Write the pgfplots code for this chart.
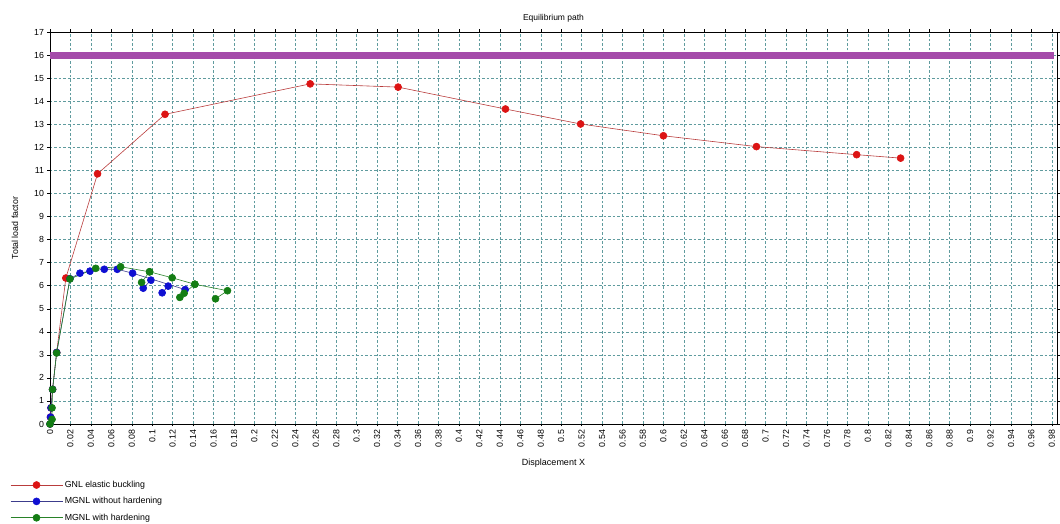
\documentclass[border=0pt]{standalone}
\usepackage{pgfplots}
\pgfplotsset{compat=1.18}
\usepackage{fontspec}
\setmainfont{Liberation Sans}
\definecolor{gridc}{RGB}{95,155,158}
\definecolor{redl}{RGB}{185,60,60}
\definecolor{redm}{RGB}{220,20,20}
\definecolor{bluel}{RGB}{60,60,140}
\definecolor{bluem}{RGB}{15,15,210}
\definecolor{greenl}{RGB}{40,130,40}
\definecolor{greenm}{RGB}{20,125,20}
\definecolor{purp}{RGB}{165,75,170}
\begin{document}
\begin{tikzpicture}
\begin{axis}[
  at={(0,0)}, anchor=south west,
  scale only axis, width=1007pt, height=392pt,
  xmin=0, xmax=0.985, ymin=0, ymax=17,
  xtick={0,0.02,...,0.981}, ytick={0,1,...,17},
  /pgf/number format/assume math mode=true,
  xticklabel style={rotate=90, anchor=east, font=\fontsize{8.8}{9}\selectfont, /pgf/number format/.cd, fixed, precision=2},
  yticklabel style={font=\fontsize{8.8}{9}\selectfont},
  tick align=outside, major tick length=2.5pt,
  tick style={black, thin},
  grid=major,
  major grid style={gridc, dash pattern=on 2.5pt off 2pt, line width=0.45pt},
  axis line style={black, line width=0.6pt},
  title={Equilibrium path},
  title style={font=\fontsize{8.5}{9}\selectfont, at={(0.5,1)}, anchor=south, yshift=0pt},
  xlabel={Displacement X},
  xlabel style={font=\fontsize{9}{10}\selectfont, at={(0.5,0)}, anchor=north, yshift=-31pt},
  ylabel={Total load factor},
  ylabel style={font=\fontsize{8.8}{9}\selectfont, at={(-0.0348,0.5)}, anchor=center},
  legend style={draw=none, fill=none, at={(-0.0397,-0.14)}, anchor=north west, font=\fontsize{8.8}{9}\selectfont, row sep=4.5pt, inner sep=0pt},
  legend cell align=left,
  legend image code/.code={\draw[#1, mark repeat=2, mark phase=2] plot coordinates {(0pt,0pt) (26pt,0pt) (52pt,0pt)};},
  clip=false,
]
\addplot[purp, line width=7pt, forget plot] coordinates {(0,16) (0.982,16)};
\addplot[redl, line width=0.6pt, mark=*, mark size=3.5pt, mark options={redm, fill=redm}] coordinates {
(0,0) (0.0005,0.3) (0.001,0.7) (0.0025,1.5) (0.0065,3.1)
(0.0155,6.33) (0.0465,10.85) (0.1125,13.43) (0.2545,14.75) (0.3405,14.61)
(0.4455,13.66) (0.519,13.01) (0.6,12.5) (0.691,12.03) (0.789,11.68) (0.832,11.53)};
\addlegendentry{GNL elastic buckling}
\addplot[bluel, line width=0.6pt, mark=*, mark size=3.5pt, mark options={bluem, fill=bluem}] coordinates {
(0,0) (0.0005,0.3) (0.001,0.7) (0.0025,1.5) (0.0065,3.1)
(0.0195,6.3) (0.0293,6.54) (0.0391,6.63) (0.0531,6.71) (0.0658,6.71) (0.0808,6.54) (0.1322,5.83)};
\addlegendentry{MGNL without hardening}
\addplot[bluel, line width=0.6pt, mark=*, mark size=3.5pt, mark options={bluem, fill=bluem}, forget plot] coordinates {(0.0912,5.89) (0.0987,6.24)};
\addplot[bluel, line width=0.6pt, mark=*, mark size=3.5pt, mark options={bluem, fill=bluem}, forget plot] coordinates {(0.1097,5.69) (0.1156,5.98)};
\addplot[greenl, line width=0.6pt, mark=*, mark size=3.5pt, mark options={greenm, fill=greenm}] coordinates {
(0,0) (0.002,0.2) (0.002,0.7) (0.0025,1.5) (0.0065,3.08)
(0.0195,6.29) (0.0447,6.75) (0.0691,6.82) (0.0974,6.6) (0.1195,6.34) (0.1417,6.06) (0.1736,5.78) (0.1619,5.43)};
\addlegendentry{MGNL with hardening}
\addplot[greenl, line width=0.6pt, mark=*, mark size=3.5pt, mark options={greenm, fill=greenm}, forget plot] coordinates {(0.0896,6.14) (0.0974,6.6)};
\addplot[greenl, line width=0.6pt, mark=*, mark size=3.5pt, mark options={greenm, fill=greenm}, forget plot] coordinates {(0.1417,6.06) (0.1312,5.67) (0.127,5.49)};
\end{axis}
\path[use as bounding box] (-50pt,-100pt) rectangle (1010pt,424pt);
\end{tikzpicture}
\end{document}
